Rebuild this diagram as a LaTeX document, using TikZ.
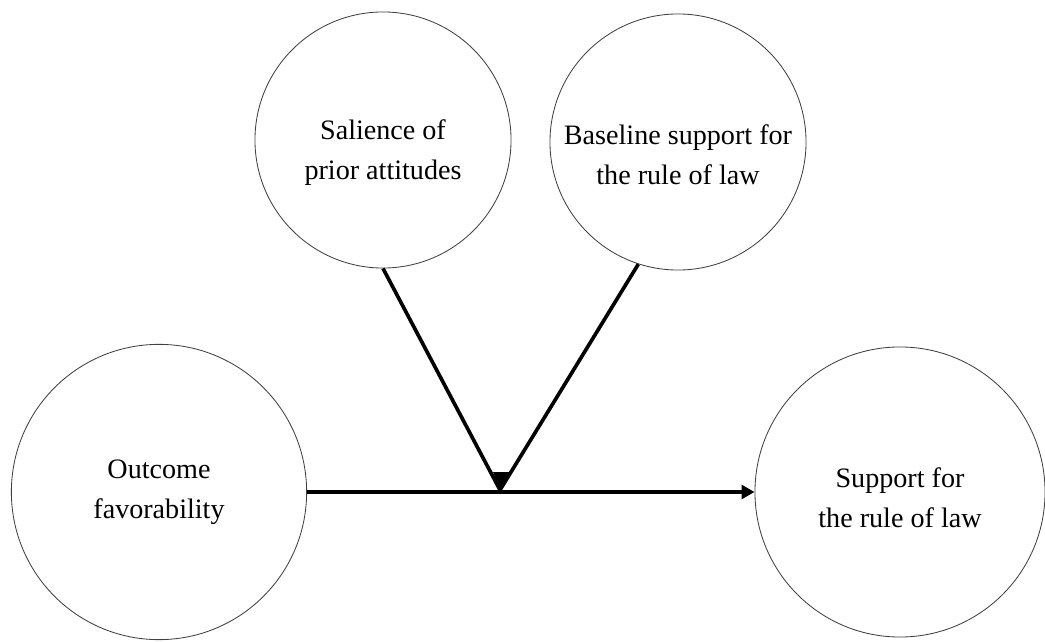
\documentclass[tikz,border=0pt]{standalone}
\usepackage{fontspec}
\setmainfont{Liberation Serif}
\usetikzlibrary{arrows.meta}

\tikzset{
  var/.style={circle, draw=black!75, line width=0.6pt, align=center, inner sep=0pt,
    font=\fontsize{20}{28.5}\selectfont},
  path/.style={line width=2.6pt}
}

\begin{document}
\begin{tikzpicture}[x=0.025cm, y=-0.025cm, >={Triangle[length=3.2mm, width=3.4mm]}]
    \useasboundingbox (0,0) rectangle (1045,642);
    \node[var, minimum size=6.4cm] (sal) at (383,140) {\rule{0pt}{32pt}Salience of\\prior attitudes};
    \node[var, minimum size=6.4cm] (base) at (678,142) {\rule{0pt}{32pt}Baseline support for\\the rule of law};
    \node[var, minimum size=7.38cm] (out) at (159,492) {Outcome\\favorability};
    \node[var, minimum size=7.25cm] (sup) at (900,492) {\rule{0pt}{22pt}Support for\\the rule of law};
    \coordinate (mod) at (500,490);
    \draw[path, ->] (out.east) -- (sup.west);
    \draw[path] (sal.south) -- (mod);
    \draw[path] (base.-108) -- (mod);
    \fill ([shift={(-7,-18)}]mod) -- ([shift={(10,-18)}]mod) -- (mod) -- cycle;
  \end{tikzpicture}
\end{document}
